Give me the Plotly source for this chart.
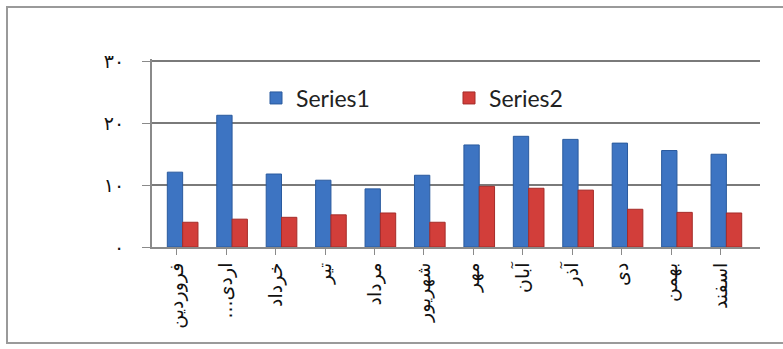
import plotly.graph_objects as go

months = ["فروردین", "اردی...\u200f", "خرداد", "تیر", "مرداد", "شهریور",
          "مهر", "آبان", "آذر", "دی", "بهمن", "اسفند"]
series1 = [12.1, 21.3, 11.8, 10.8, 9.4, 11.6, 16.5, 17.9, 17.4, 16.8, 15.6, 15.0]
series2 = [4.0, 4.5, 4.8, 5.2, 5.5, 4.0, 9.8, 9.5, 9.2, 6.1, 5.6, 5.5]
y_ticks = [0, 10, 20, 30]
y_tick_text = ["۰", "۱۰", "۲۰", "۳۰"]

W, H = 783, 349
ML, MR, MT, MB = 152, 23, 59, 102

fig = go.Figure()
fig.add_trace(go.Bar(x=list(range(12)), y=series1, name="Series1", width=0.31, offset=-0.19,
                     marker=dict(color="#3D74C2", line=dict(color="#2A5A9E", width=1))))
fig.add_trace(go.Bar(x=list(range(12)), y=series2, name="Series2", width=0.31, offset=0.12,
                     marker=dict(color="#D23E3A", line=dict(color="#A52C29", width=1))))

pw = W - ML - MR
ph = H - MT - MB
def px_x(p):
    return (p - ML) / pw
def px_y(p):
    return (H - MB - p) / ph

fig.update_layout(
    width=W, height=H,
    margin=dict(l=ML, r=MR, t=MT, b=MB),
    paper_bgcolor="white", plot_bgcolor="white",
    barmode="overlay",
    showlegend=True,
    legend=dict(orientation="h", x=px_x(256), y=px_y(98), xanchor="left", yanchor="middle",
                font=dict(family="Lato, 'Liberation Sans Narrow', sans-serif", size=23, color="#222"),
                bgcolor="rgba(0,0,0,0)", entrywidth=148, traceorder="normal"),
    xaxis=dict(range=[-0.5, 11.8], tickmode="array", tickvals=list(range(12)), ticktext=months,
               tickangle=-90, showgrid=False, showline=True, linecolor="#8a8a8a", linewidth=2,
               ticks="outside", ticklen=6, tickcolor="#8a8a8a", tickson="boundaries",
               tickfont=dict(family="DejaVu Sans", size=19, color="#111"), zeroline=False),
    yaxis=dict(range=[0, 30.4], tickmode="array", tickvals=y_ticks, ticktext=y_tick_text,
               showgrid=True, gridcolor="#7a7a7a", gridwidth=2,
               showline=True, linecolor="#8a8a8a", linewidth=2,
               ticks="outside", ticklen=8, tickcolor="#8a8a8a", ticklabelstandoff=14,
               tickfont=dict(family="DejaVu Sans", size=19, color="#111"), zeroline=False),
    shapes=[dict(type="rect", xref="paper", yref="paper",
                 x0=px_x(7), x1=px_x(790), y0=px_y(343), y1=px_y(7),
                 line=dict(color="#9a9a9a", width=2), fillcolor="rgba(0,0,0,0)", layer="below")],
)

fig.write_html("out.html")
